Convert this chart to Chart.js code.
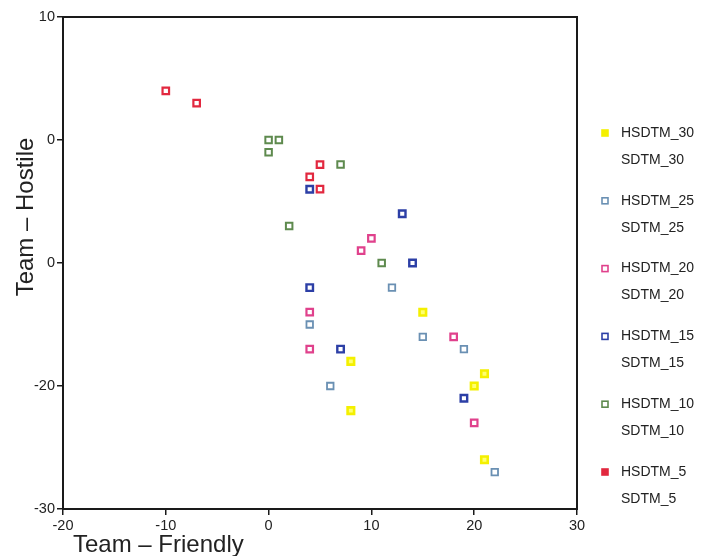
<!DOCTYPE html>
<html>
<head>
<meta charset="utf-8">
<script src="https://cdn.jsdelivr.net/npm/chart.js@4/dist/chart.umd.min.js"></script>
<style>
  html, body { margin: 0; padding: 0; background: #fff; }
  #wrap { width: 708px; height: 556px; position: relative; }
</style>
</head>
<body>
<div id="wrap"><canvas id="c" width="708" height="556"></canvas></div>
<script>
// Series labels, in legend order
const seriesNames = ['HSDTM_30', 'SDTM_30', 'HSDTM_25', 'SDTM_25', 'HSDTM_20', 'SDTM_20',
                     'HSDTM_15', 'SDTM_15', 'HSDTM_10', 'SDTM_10', 'HSDTM_5', 'SDTM_5'];

// [Team – Friendly, Team – Hostile] pairs per series
const hsdtm30 = [[15, -14], [8, -18], [21, -19], [20, -20], [8, -22], [21, -26]];
const sdtm30  = [];
const hsdtm25 = [[12, -12], [4, -15], [15, -16], [19, -17], [6, -20], [22, -27]];
const sdtm25  = [];
const hsdtm20 = [[10, -8], [9, -9], [4, -14], [4, -17], [18, -16], [20, -23]];
const sdtm20  = [];
const hsdtm15 = [[13, -6], [14, -10], [4, -12], [7, -17], [19, -21], [4, -4]];
const sdtm15  = [];
const hsdtm10 = [[0, 0], [1, 0], [0, -1], [7, -2], [2, -7], [11, -10]];
const sdtm10  = [];
const hsdtm5  = [[-10, 4], [-7, 3], [5, -2], [4, -3], [5, -4]];
const sdtm5   = [];

// Axis ticks
const xTickValues = [-20, -10, 0, 10, 20, 30];
const xTickLabels = ['-20', '-10', '0', '10', '20', '30'];
const yTickValues = [-30, -20, -10, 0, 10];
const yTickLabels = ['-30', '-20', '0', '0', '10'];

const seriesData = [hsdtm30, sdtm30, hsdtm25, sdtm25, hsdtm20, sdtm20,
                    hsdtm15, sdtm15, hsdtm10, sdtm10, hsdtm5, sdtm5];

// Marker styles per series
const styles = [
  { border: '#f4f000', fill: '#ffff70', width: 2.6 },
  { border: 'rgba(0,0,0,0)', fill: 'rgba(0,0,0,0)', width: 0 },
  { border: '#6a90b3', fill: '#ffffff', width: 1.8 },
  { border: 'rgba(0,0,0,0)', fill: 'rgba(0,0,0,0)', width: 0 },
  { border: '#e0418c', fill: '#ffffff', width: 2.2 },
  { border: 'rgba(0,0,0,0)', fill: 'rgba(0,0,0,0)', width: 0 },
  { border: '#2c3fa6', fill: '#ffffff', width: 2.4 },
  { border: 'rgba(0,0,0,0)', fill: 'rgba(0,0,0,0)', width: 0 },
  { border: '#5e8a4e', fill: '#ffffff', width: 2 },
  { border: 'rgba(0,0,0,0)', fill: 'rgba(0,0,0,0)', width: 0 },
  { border: '#e2283f', fill: '#ffffff', width: 2.2 },
  { border: 'rgba(0,0,0,0)', fill: 'rgba(0,0,0,0)', width: 0 }
];

const FONT = '"Liberation Sans", Arial, sans-serif';
const TEXT = '#222';

const datasets = seriesNames.map((name, i) => ({
  label: name,
  data: seriesData[i].map(p => ({ x: p[0], y: p[1] })),
  pointStyle: 'rect',
  pointRadius: 4.6,
  pointHoverRadius: 4.6,
  pointBorderWidth: styles[i].width,
  borderColor: styles[i].border,
  backgroundColor: styles[i].fill,
  showLine: false
}));

// Box around the plot area, axis titles and the two-line legend
const decorations = {
  id: 'decorations',
  beforeDatasetsDraw(chart) {
    const { ctx, chartArea: a } = chart;
    ctx.save();
    ctx.strokeStyle = '#1a1a1a';
    ctx.lineWidth = 2;
    ctx.strokeRect(a.left, a.top, a.right - a.left, a.bottom - a.top);
    ctx.restore();
  },
  afterDraw(chart) {
    const { ctx } = chart;
    ctx.save();
    ctx.fillStyle = TEXT;
    ctx.font = '24px ' + FONT;
    // x title
    ctx.textAlign = 'left';
    ctx.textBaseline = 'alphabetic';
    ctx.fillText('Team – Friendly', 73, 552);
    // y title
    ctx.save();
    ctx.translate(33, 217);
    ctx.rotate(-Math.PI / 2);
    ctx.textAlign = 'center';
    ctx.fillText('Team – Hostile', 0, 0);
    ctx.restore();

    // legend
    ctx.font = '14px ' + FONT;
    ctx.textBaseline = 'middle';
    ctx.textAlign = 'left';
    chart.data.datasets.forEach((ds, i) => {
      const group = Math.floor(i / 2);
      const y = 133 + group * 67.8 + (i % 2) * 27;
      ctx.fillStyle = TEXT;
      ctx.fillText(ds.label, 621, y);
      if (i % 2 === 0) {
        const s = 6;
        const filled = i === 0 || i === 10;
        ctx.fillStyle = filled ? ds.borderColor : ds.backgroundColor;
        ctx.fillRect(605 - s / 2, y - s / 2, s, s);
        ctx.strokeStyle = ds.borderColor;
        ctx.lineWidth = 1.6;
        ctx.strokeRect(605 - s / 2, y - s / 2, s, s);
      }
    });
    ctx.restore();
  }
};

new Chart(document.getElementById('c'), {
  type: 'scatter',
  data: { datasets },
  plugins: [decorations],
  options: {
    responsive: false,
    animation: false,
    devicePixelRatio: 1,
    layout: { padding: { top: 17, right: 131, left: 0, bottom: 0 } },
    plugins: { legend: { display: false }, tooltip: { enabled: false } },
    scales: {
      x: {
        type: 'linear',
        min: -20, max: 30,
        afterBuildTicks: s => { s.ticks = xTickValues.map(v => ({ value: v })); },
        afterFit: s => { s.height = 47; },
        ticks: {
          autoSkip: false,
          maxRotation: 0,
          padding: 2,
          color: TEXT,
          font: { family: FONT, size: 14.5 },
          callback: v => xTickLabels[xTickValues.indexOf(v)]
        },
        grid: { drawOnChartArea: false, drawTicks: true, tickLength: 6, color: '#1a1a1a', lineWidth: 1.5 },
        border: { display: true, color: '#1a1a1a', width: 2 }
      },
      y: {
        type: 'linear',
        min: -30, max: 10,
        afterBuildTicks: s => { s.ticks = yTickValues.map(v => ({ value: v })); },
        afterFit: s => { s.width = 63; },
        ticks: {
          autoSkip: false,
          padding: 2,
          color: TEXT,
          font: { family: FONT, size: 14.5 },
          callback: v => yTickLabels[yTickValues.indexOf(v)]
        },
        grid: { drawOnChartArea: false, drawTicks: true, tickLength: 6, color: '#1a1a1a', lineWidth: 1.5 },
        border: { display: true, color: '#1a1a1a', width: 2 }
      }
    }
  }
});
</script>
</body>
</html>
